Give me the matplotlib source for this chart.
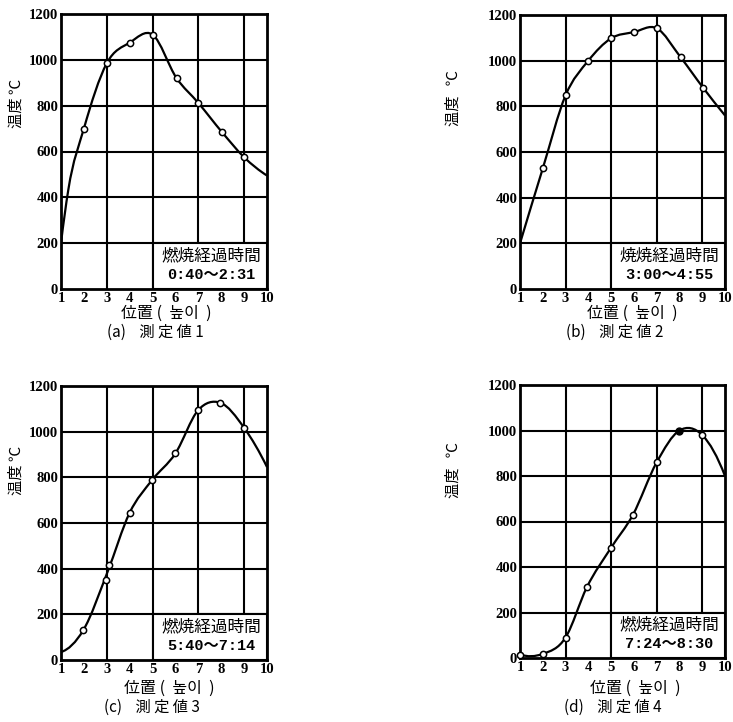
import matplotlib.pyplot as plt
import numpy as np
from matplotlib.path import Path
from matplotlib.patches import PathPatch, Rectangle

# readings for the four furnace measurements (position 1-10, temperature in degC)
# curve points read along each drawn line, marker points read at the circles
a_x = [1, 1.32, 2, 3, 4, 5, 6.05, 7, 8.03, 9, 10]
a_y = [200, 433, 700, 985, 1075, 1110, 920, 812, 685, 575, 495]
a_mx = [2, 3, 4, 5, 6.05, 7, 8.03, 9]
a_my = [700, 985, 1075, 1110, 920, 812, 685, 575]

b_x = [1, 2, 3, 4, 5, 6, 7, 8.05, 9.05, 10]
b_y = [200, 528, 848, 1000, 1098, 1125, 1142, 1015, 880, 760]
b_mx = [2, 3, 4, 5, 6, 7, 8.05, 9.05]
b_my = [528, 848, 1000, 1098, 1125, 1142, 1015, 880]

c_x = [1, 1.97, 3.03, 4, 4.97, 6, 7, 7.95, 9, 10]
c_y = [35, 130, 385, 645, 787, 905, 1095, 1127, 1017, 845]
c_mx = [1.97, 2.97, 3.09, 4, 4.97, 6, 7, 7.95, 9]
c_my = [130, 352, 418, 645, 787, 905, 1095, 1127, 1017]

d_x = [1, 2, 3, 3.93, 5, 5.95, 7, 8, 9, 10]
d_y = [15, 18, 90, 310, 485, 628, 860, 1000, 980, 800]
d_mx = [1, 2, 3, 3.93, 5, 5.95, 7, 9]
d_my = [15, 18, 90, 310, 485, 628, 860, 980]
d_fx = [8]
d_fy = [1000]

subtitles = ['(a)    測 定 値 1', '(b)    測 定 値 2', '(c)    測 定 値 3', '(d)    測 定 値 4']
box_titles = ['燃焼経過時間', '焼焼経過時間', '燃焼経過時間', '燃焼経過時間']
box_times = ['0:40〜2:31', '3:00〜4:55', '5:40〜7:14', '7:24〜8:30']
x_ticks = [1, 2, 3, 4, 5, 6, 7, 8, 9, 10]
y_ticks = [0, 200, 400, 600, 800, 1000, 1200]

cjk = ['Noto Sans CJK JP', 'DejaVu Sans']
serif = ['Liberation Serif', 'Noto Sans CJK JP']
mono = ['Liberation Mono', 'Noto Sans CJK JP']


def smooth_path(xs, ys):
    # cubic hermite through the points, drawn as bezier segments by matplotlib
    x = np.asarray(xs, float)
    y = np.asarray(ys, float)
    h = np.diff(x)
    d = np.diff(y) / h
    m = np.zeros_like(x)
    for i in range(1, len(x) - 1):
        m[i] = (d[i - 1] * h[i] + d[i] * h[i - 1]) / (h[i - 1] + h[i])
    m[0] = ((2 * h[0] + h[1]) * d[0] - h[0] * d[1]) / (h[0] + h[1])
    m[-1] = ((2 * h[-1] + h[-2]) * d[-1] - h[-1] * d[-2]) / (h[-1] + h[-2])
    verts = [(x[0], y[0])]
    codes = [Path.MOVETO]
    for i in range(len(h)):
        verts += [(x[i] + h[i] / 3, y[i] + m[i] * h[i] / 3),
                  (x[i + 1] - h[i] / 3, y[i + 1] - m[i + 1] * h[i] / 3),
                  (x[i + 1], y[i + 1])]
        codes += [Path.CURVE4] * 3
    return Path(verts, codes)


W, H = 733, 722
fig = plt.figure(figsize=(W / 100, H / 100), dpi=100)

# axes boxes in pixels: left, top, right, bottom
boxes = [(61, 14, 267, 289), (520, 15, 725, 289), (61, 386, 267, 660), (520, 385, 725, 658)]
panels = [(a_x, a_y, a_mx, a_my, [], []), (b_x, b_y, b_mx, b_my, [], []),
          (c_x, c_y, c_mx, c_my, [], []), (d_x, d_y, d_mx, d_my, d_fx, d_fy)]
ylabel_pos = [(16, 103, '温度 ℃'), (453, 98, '温度   ℃'), (16, 470, '温度 ℃'), (453, 470, '温度   ℃')]
xlabel_pos = [(166, 313), (632, 313), (169, 688), (635, 688)]
sub_pos = [(155, 332), (615, 332), (152, 707), (613, 707)]

for k in range(4):
    l, t, r, b = boxes[k]
    ax = fig.add_axes([l / W, 1 - b / H, (r - l) / W, (b - t) / H])
    xs, ys, mx, my, fx, fy = panels[k]

    ax.set_xlim(1, 10)
    ax.set_ylim(0, 1200)
    ax.set_xticks(x_ticks)
    ax.set_yticks(y_ticks)
    ax.tick_params(length=0, pad=2)
    for lab in ax.get_xticklabels() + ax.get_yticklabels():
        lab.set_family(serif)
        lab.set_fontweight('bold')
        lab.set_fontsize(10.5)
    for s in ax.spines.values():
        s.set_linewidth(2)

    for gx in [3, 5, 7, 9]:
        ax.axvline(gx, color='black', lw=1.5, zorder=1)
    for gy in [200, 400, 600, 800, 1000]:
        ax.axhline(gy, color='black', lw=1.5, zorder=1)

    ax.add_patch(Rectangle((5, 0), 5, 200, facecolor='white', edgecolor='black', lw=1.5, zorder=3))
    ax.text(7.55, 145, box_titles[k], family=cjk, fontsize=12, ha='center', va='center', zorder=5)
    ax.text(7.55, 62, box_times[k], family=mono, fontsize=11, fontweight='bold',
            ha='center', va='center', zorder=5)

    ax.add_patch(PathPatch(smooth_path(xs, ys), fill=False, edgecolor='black', lw=1.6, zorder=4))
    ax.plot(mx, my, 'o', ms=4.5, mfc='white', mec='black', mew=1.1, zorder=6, clip_on=False)
    if fx:
        ax.plot(fx, fy, 'o', ms=5, mfc='black', mec='black', zorder=6)

    yx, yy, ytxt = ylabel_pos[k]
    fig.text(yx / W, 1 - yy / H, ytxt, family=cjk, fontsize=11, rotation=90,
             ha='center', va='center')
    xx, xy = xlabel_pos[k]
    fig.text(xx / W, 1 - xy / H, '位置 (  높이  )', family=cjk, fontsize=11.5,
             ha='center', va='center')
    sx, sy = sub_pos[k]
    fig.text(sx / W, 1 - sy / H, subtitles[k], family=cjk, fontsize=11,
             ha='center', va='center')

fig.savefig('out.png', dpi=100)
